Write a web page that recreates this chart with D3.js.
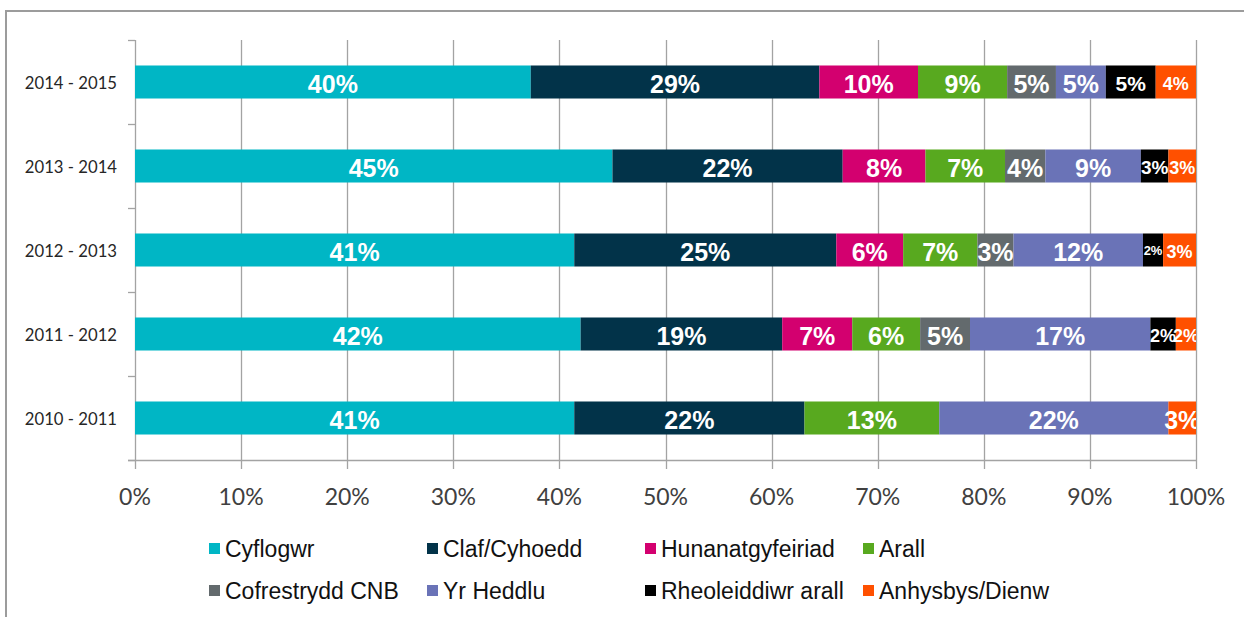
<!DOCTYPE html>
<html>
<head>
<meta charset="utf-8">
<script src="https://cdn.jsdelivr.net/npm/d3@7/dist/d3.min.js"></script>
<style>
  html, body { margin: 0; padding: 0; background: #fff; }
  svg { display: block; }
</style>
</head>
<body>
<div class="chart-container"></div>
<script>
//! DATA
const years = ['2014 - 2015', '2013 - 2014', '2012 - 2013', '2011 - 2012', '2010 - 2011'];
const seriesNames = ['Cyflogwr', 'Claf/Cyhoedd', 'Hunanatgyfeiriad', 'Arall',
  'Cofrestrydd CNB', 'Yr Heddlu', 'Rheoleiddiwr arall', 'Anhysbys/Dienw'];
const seriesColors = ['#00b6c5', '#023349', '#d3006f', '#58a91f',
  '#636a6d', '#6a73b7', '#000000', '#ff5000'];

// bar lengths (share of the bar, %), one array per series, rows as in `years`
const cyflogwr     = [37.3, 45.0, 41.4, 42.0, 41.4];
const claf         = [27.2, 21.7, 24.7, 19.0, 21.7];
const hunan        = [9.3, 7.8, 6.3, 6.6, 0];
const arall        = [8.4, 7.5, 7.0, 6.4, 12.7];
const cofrestrydd  = [4.6, 3.8, 3.4, 4.7, 0];
const heddlu       = [4.7, 9.0, 12.2, 17.0, 21.6];
const rheoleiddiwr = [4.7, 2.6, 1.9, 2.4, 0];
const anhysbys     = [3.8, 2.6, 3.1, 1.9, 2.6];

// data labels printed on the bars
const lblCyflogwr     = ['40%', '45%', '41%', '42%', '41%'];
const lblClaf         = ['29%', '22%', '25%', '19%', '22%'];
const lblHunan        = ['10%', '8%', '6%', '7%', ''];
const lblArall        = ['9%', '7%', '7%', '6%', '13%'];
const lblCofrestrydd  = ['5%', '4%', '3%', '5%', ''];
const lblHeddlu       = ['5%', '9%', '12%', '17%', '22%'];
const lblRheoleiddiwr = ['5%', '3%', '2%', '2%', ''];
const lblAnhysbys     = ['4%', '3%', '3%', '2%', '3%'];

const xTicks = [0, 10, 20, 30, 40, 50, 60, 70, 80, 90, 100];

//! CONSTS
const WIDTH = 1244;
const HEIGHT = 617;
const LEFT = 135, RIGHT = 1196, TOP = 40, BOTTOM = 460;

const values = [cyflogwr, claf, hunan, arall, cofrestrydd, heddlu, rheoleiddiwr, anhysbys];
const labels = [lblCyflogwr, lblClaf, lblHunan, lblArall, lblCofrestrydd, lblHeddlu, lblRheoleiddiwr, lblAnhysbys];

const table = years.map((y, i) => {
  const row = { year: y };
  seriesNames.forEach((s, k) => { row[s] = values[k][i]; });
  return row;
});

// label font sizes differ for the narrow slices
const labelSize = (k, i) => {
  if (k === 6) return [21, 19, 13, 18, 25][i];
  if (k === 7) return [18, 18, 18, 18, 25][i];
  return 25;
};

//! SVG
const svg = d3.select('.chart-container')
  .append('svg')
  .attr('width', WIDTH)
  .attr('height', HEIGHT);

// outer frame
svg.append('rect')
  .attr('x', 6).attr('y', 11)
  .attr('width', WIDTH + 40).attr('height', HEIGHT + 40)
  .attr('fill', 'none')
  .attr('stroke', '#9c9c9c')
  .attr('stroke-width', 2);

//! SCALES
const xScale = d3.scaleLinear().domain([0, 100]).range([LEFT, RIGHT]);
const yScale = d3.scaleBand().domain(years).range([TOP, BOTTOM])
  .paddingInner(0.607).paddingOuter(0.3035);
const color = d3.scaleOrdinal().domain(seriesNames).range(seriesColors);

//! GRID
svg.append('g')
  .selectAll('line')
  .data(xTicks)
  .enter()
  .append('line')
  .attr('x1', d => Math.round(xScale(d)) + 0.5)
  .attr('x2', d => Math.round(xScale(d)) + 0.5)
  .attr('y1', TOP)
  .attr('y2', BOTTOM + 9)
  .attr('stroke', '#a3a3a3')
  .attr('stroke-width', 1.3);

// y-axis tick marks at category boundaries
const step = yScale.step();
svg.append('g')
  .selectAll('line')
  .data(d3.range(years.length + 1))
  .enter()
  .append('line')
  .attr('x1', LEFT - 7)
  .attr('x2', LEFT)
  .attr('y1', i => Math.round(TOP + i * step) + 0.5)
  .attr('y2', i => Math.round(TOP + i * step) + 0.5)
  .attr('stroke', '#a3a3a3')
  .attr('stroke-width', 1.3);

// x-axis line
svg.append('line')
  .attr('x1', LEFT - 7).attr('x2', RIGHT)
  .attr('y1', BOTTOM + 0.5).attr('y2', BOTTOM + 0.5)
  .attr('stroke', '#a3a3a3')
  .attr('stroke-width', 1.3);

//! BARS
const stacked = d3.stack().keys(seriesNames)(table);

const layers = svg.append('g')
  .selectAll('g')
  .data(stacked)
  .enter()
  .append('g')
  .attr('fill', d => color(d.key));

layers.selectAll('rect')
  .data(d => d)
  .enter()
  .append('rect')
  .attr('x', d => xScale(d[0]))
  .attr('y', d => yScale(d.data.year))
  .attr('width', d => xScale(d[1]) - xScale(d[0]))
  .attr('height', yScale.bandwidth());

//! LABELS
svg.append('clipPath').attr('id', 'plot-clip')
  .append('rect')
  .attr('x', LEFT).attr('y', TOP)
  .attr('width', RIGHT - LEFT).attr('height', BOTTOM - TOP);

const labelG = svg.append('g').attr('clip-path', 'url(#plot-clip)');
stacked.forEach((layer, k) => {
  labelG.selectAll(null)
    .data(layer.map((d, i) => ({ d, i })).filter(o => labels[k][o.i] !== ''))
    .enter()
    .append('text')
    .attr('x', o => (xScale(o.d[0]) + xScale(o.d[1])) / 2)
    .attr('y', o => yScale(o.d.data.year) + yScale.bandwidth() / 2)
    .attr('dy', '0.42em')
    .attr('text-anchor', 'middle')
    .attr('fill', '#fff')
    .style('font-family', '"Liberation Sans", Arial, sans-serif')
    .style('font-weight', 'bold')
    .style('font-size', o => labelSize(k, o.i) + 'px')
    .text(o => labels[k][o.i]);
});

//! AXIS TEXT
svg.append('g')
  .selectAll('text')
  .data(years)
  .enter()
  .append('text')
  .attr('x', 117)
  .attr('y', d => yScale(d) + yScale.bandwidth() / 2 + 7)
  .attr('text-anchor', 'end')
  .attr('fill', '#262626')
  .style('font-family', 'Lato, sans-serif')
  .style('font-size', '16.7px')
  .text(d => d);

svg.append('g')
  .selectAll('text')
  .data(xTicks)
  .enter()
  .append('text')
  .attr('x', d => xScale(d))
  .attr('y', 505)
  .attr('text-anchor', 'middle')
  .attr('fill', '#404040')
  .style('font-family', 'Lato, sans-serif')
  .style('font-size', '23px')
  .text(d => d + '%');

//! LEGEND
// equal-width legend cells, four per row
const legend = svg.append('g');
const perRow = 4;
const legendX = 209, cellW = 218, rowH = 42;

const items = legend.selectAll('g')
  .data(seriesNames)
  .enter()
  .append('g')
  .attr('transform', (d, i) => `translate(${legendX + (i % perRow) * cellW}, ${543 + Math.floor(i / perRow) * rowH})`);

items.append('rect')
  .attr('width', 11)
  .attr('height', 11)
  .attr('fill', d => color(d));

items.append('text')
  .attr('x', 16)
  .attr('y', 13.5)
  .attr('fill', '#111')
  .style('font-family', '"Liberation Sans", Arial, sans-serif')
  .style('font-size', '23px')
  .text(d => d);
</script>
</body>
</html>
